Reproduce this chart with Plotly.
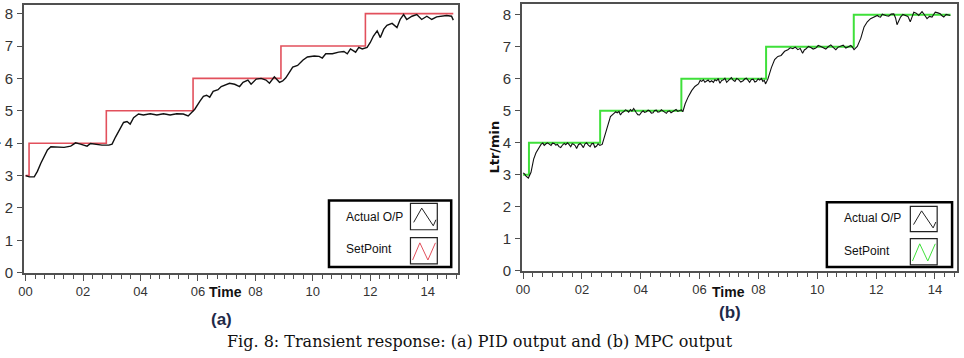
import plotly.graph_objects as go

W, H = 964, 358

# ---------------- data ----------------
x_tick_vals = [0, 2, 4, 6, 8, 10, 12, 14]
x_tick_labels = ["00", "02", "04", "06", "08", "10", "12", "14"]
y_tick_vals = [0, 1, 2, 3, 4, 5, 6, 7, 8]

# (a) PID
pid_sp_time = [0, 0.12, 2.81, 5.83, 8.89, 11.83, 14.89]
pid_sp_value = [3, 4, 5, 6, 7, 8, 8]

pid_time = [0.0, 0.13, 0.30, 0.41, 0.53, 0.64, 0.76, 0.88, 1.10, 1.34, 1.57, 1.74, 1.91,
            2.14, 2.26, 2.43, 2.66, 2.90, 3.01, 3.13, 3.30, 3.41, 3.53, 3.64, 3.76, 3.93,
            4.10, 4.34, 4.57, 4.80, 5.03, 5.26, 5.49, 5.66, 5.78, 5.89, 6.07, 6.19, 6.30,
            6.41, 6.53, 6.70, 6.81, 6.93, 7.10, 7.28, 7.45, 7.57, 7.74, 7.85, 8.03, 8.20,
            8.37, 8.49, 8.66, 8.84, 8.95, 9.06, 9.18, 9.30, 9.47, 9.65, 9.81, 10.05, 10.22,
            10.33, 10.45, 10.68, 10.90, 11.08, 11.20, 11.31, 11.49, 11.60, 11.72, 11.89,
            12.00, 12.11, 12.24, 12.35, 12.47, 12.58, 12.76, 12.93, 13.04, 13.16, 13.27,
            13.45, 13.62, 13.79, 13.97, 14.14, 14.31, 14.49, 14.66, 14.83, 14.89]
pid_actual = [3.00, 2.96, 2.96, 3.13, 3.38, 3.56, 3.79, 3.89, 3.87, 3.87, 3.91, 4.01, 3.97,
              3.91, 3.99, 3.97, 3.94, 3.94, 3.97, 4.19, 4.49, 4.64, 4.67, 4.59, 4.79, 4.90,
              4.87, 4.91, 4.87, 4.91, 4.87, 4.91, 4.90, 4.84, 4.95, 5.05, 5.30, 5.45, 5.48,
              5.42, 5.60, 5.65, 5.75, 5.80, 5.85, 5.82, 5.75, 5.88, 5.95, 5.82, 5.98, 6.00,
              5.95, 5.85, 6.05, 5.88, 5.92, 6.02, 6.20, 6.35, 6.40, 6.56, 6.66, 6.69, 6.68,
              6.63, 6.76, 6.76, 6.81, 6.83, 6.76, 6.91, 6.81, 6.96, 6.91, 6.96,
              7.11, 7.31, 7.47, 7.26, 7.52, 7.64, 7.70, 7.57, 7.82, 7.97, 7.82,
              7.92, 7.97, 7.82, 7.92, 7.82, 7.90, 7.92, 7.94, 7.92, 7.80]

# (b) MPC
mpc_sp_time = [0, 0.20, 2.62, 5.38, 8.26, 11.24, 14.53]
mpc_sp_value = [3, 4, 5, 6, 7, 8, 8]

mpc_time = [0.0, 0.05, 0.10, 0.18, 0.27, 0.36, 0.44, 0.52,
            0.61, 0.67, 0.72, 0.78, 0.83, 0.89, 0.95, 1.00, 1.06, 1.11, 1.17, 1.22, 1.28,
            1.34, 1.40, 1.45, 1.51, 1.56, 1.62, 1.67, 1.73, 1.78, 1.82, 1.88, 1.94, 2.00,
            2.05, 2.10, 2.16, 2.22, 2.28, 2.33, 2.39, 2.44, 2.50, 2.55, 2.61,
            2.69, 2.77, 2.86, 2.97,
            3.09, 3.15, 3.20, 3.26, 3.31, 3.37, 3.42, 3.48, 3.54, 3.59, 3.65, 3.70, 3.76,
            3.80, 3.85, 3.90, 3.96, 4.02, 4.08, 4.13, 4.19, 4.25, 4.30, 4.36, 4.42, 4.47,
            4.53, 4.58, 4.64, 4.70, 4.75, 4.81, 4.87, 4.92, 4.98, 5.03, 5.09, 5.15, 5.20,
            5.26, 5.32, 5.38, 5.43,
            5.51, 5.62, 5.73, 5.84,
            5.96, 6.02, 6.07, 6.13, 6.18, 6.24, 6.29, 6.35, 6.41, 6.47, 6.52, 6.58, 6.63,
            6.69, 6.75, 6.80, 6.86, 6.92, 7.00, 7.08, 7.14, 7.20, 7.26, 7.31, 7.40, 7.48,
            7.54, 7.59, 7.65, 7.70, 7.76, 7.82, 7.88, 7.93, 7.99, 8.04, 8.10, 8.15, 8.20, 8.24,
            8.32, 8.44, 8.55, 8.66, 8.77, 8.89,
            9.00, 9.08, 9.17, 9.25, 9.34, 9.42, 9.50, 9.56, 9.62, 9.70, 9.78, 9.86, 9.95,
            10.03, 10.12, 10.20, 10.29, 10.37, 10.46, 10.54, 10.63, 10.71, 10.80, 10.88,
            10.97, 11.05, 11.14, 11.20, 11.25,
            11.36, 11.48, 11.59, 11.70, 11.81, 11.93,
            12.04, 12.10, 12.15, 12.21, 12.26, 12.35, 12.43, 12.51, 12.60, 12.66, 12.71,
            12.77, 12.83, 12.91, 13.00, 13.08, 13.16, 13.22, 13.28, 13.36, 13.45, 13.50,
            13.56, 13.64, 13.73, 13.81, 13.90, 13.95, 14.01, 14.10, 14.18, 14.24, 14.30,
            14.38, 14.47, 14.52]
mpc_actual = [3.06, 3.03, 2.96, 2.90, 3.08, 3.49, 3.69, 3.82,
              3.95, 3.99, 3.92, 3.97, 4.00, 3.96, 3.92, 3.99, 3.98, 3.93, 3.95, 3.88, 3.85,
              3.93, 3.98, 3.94, 4.00, 3.95, 3.88, 3.97, 3.95, 3.90, 3.82, 3.94, 3.98, 3.92,
              3.85, 3.96, 4.00, 3.93, 3.88, 3.97, 3.98, 3.86, 3.90, 3.97, 3.92,
              3.95, 4.20, 4.51, 4.82,
              4.92, 4.97, 4.94, 4.98, 4.87, 4.95, 4.97, 5.03, 5.00, 4.96, 5.04, 4.99, 5.07,
              4.99, 4.94, 4.88, 4.87, 4.95, 5.00, 4.95, 4.97, 5.02, 5.00, 4.93, 4.94, 5.01,
              5.02, 4.96, 4.97, 5.03, 5.00, 4.95, 4.92, 4.98, 5.00, 4.94, 4.97, 5.02, 5.04,
              4.98, 5.00, 5.03, 4.97,
              5.22, 5.45, 5.63, 5.76,
              5.84, 5.95, 5.92, 5.97, 5.89, 5.93, 5.96, 5.90, 5.94, 5.89, 5.97, 5.94, 6.01,
              5.86, 5.95, 5.96, 6.02, 5.89, 5.97, 6.04, 5.96, 5.92, 6.01, 5.99, 5.90, 5.94,
              6.00, 6.02, 5.95, 5.89, 5.98, 5.99, 5.90, 5.92, 6.00, 5.96, 6.01, 5.92, 5.95, 5.84,
              5.99, 6.35, 6.60, 6.70, 6.73, 6.86,
              6.91, 6.97, 6.94, 6.99, 6.91, 6.95, 6.80, 6.90, 6.94, 7.01, 6.98, 6.93, 6.96,
              7.04, 7.01, 6.97, 6.93, 7.00, 7.06, 6.98, 6.91, 6.99, 7.01, 7.05,
              6.96, 6.99, 7.04, 6.98, 6.91,
              7.01, 7.27, 7.62, 7.78, 7.88, 7.93,
              7.98, 7.94, 7.93, 8.02, 8.00, 7.97, 7.96, 8.02, 8.03, 7.90, 7.69,
              7.80, 7.93, 8.01, 7.98, 7.95, 7.78, 7.95, 8.08, 8.05, 7.98, 8.04,
              8.10, 8.00, 7.88, 7.95, 7.93, 8.00, 8.08, 8.06, 8.03, 7.97, 7.93,
              8.01, 8.00, 7.98]

labels = ["Actual O/P", "SetPoint"]

# ---------------- helpers (pixel -> paper) ----------------
def px(x):
    return x / W

def py(y):
    return 1 - y / H

SANS = "Liberation Sans, Arial, sans-serif"
RED = "#e2505c"
GREEN = "#3fe03a"
FRAME = "#505050"

fig = go.Figure()

fig.add_trace(go.Scatter(x=pid_sp_time, y=pid_sp_value, mode="lines", line_shape="hv",
                         line=dict(color=RED, width=1.6), xaxis="x", yaxis="y", showlegend=False))
fig.add_trace(go.Scatter(x=pid_time, y=pid_actual, mode="lines",
                         line=dict(color="#111111", width=1.4), xaxis="x", yaxis="y", showlegend=False))
fig.add_trace(go.Scatter(x=mpc_sp_time, y=mpc_sp_value, mode="lines", line_shape="hv",
                         line=dict(color=GREEN, width=2), xaxis="x2", yaxis="y2", showlegend=False))
fig.add_trace(go.Scatter(x=mpc_time, y=mpc_actual, mode="lines",
                         line=dict(color="#111111", width=1.1), xaxis="x2", yaxis="y2", showlegend=False))

def xaxis(domain, rng, anchor):
    return dict(domain=domain, range=rng, anchor=anchor, showline=True, mirror=True,
                linecolor=FRAME, linewidth=1.5, showgrid=False, zeroline=False,
                tickmode="array", tickvals=x_tick_vals, ticktext=x_tick_labels,
                ticks="outside", ticklen=6, tickwidth=1, tickcolor=FRAME,
                tickfont=dict(family=SANS, size=13, color="#333333"),
                minor=dict(dtick=1/3, tick0=0, ticks="outside", ticklen=4, tickwidth=1, tickcolor=FRAME))

def yaxis(domain, rng, anchor):
    return dict(domain=domain, range=rng, anchor=anchor, showline=True, mirror=True,
                linecolor=FRAME, linewidth=1.5, showgrid=False, zeroline=False,
                tickmode="array", tickvals=y_tick_vals,
                ticks="outside", ticklen=5, tickwidth=1, tickcolor=FRAME, ticklabelstandoff=1,
                tickfont=dict(family=SANS, size=15, color="#333333"))

fig.update_layout(
    width=W, height=H, margin=dict(l=0, r=0, t=0, b=0),
    paper_bgcolor="white", plot_bgcolor="white", showlegend=False,
    xaxis=xaxis([px(18), px(455)], [-0.06, 15.06], "y"),
    yaxis=yaxis([py(279), py(5)], [0, 8.27], "x"),
    xaxis2=xaxis([px(519), px(957)], [-0.044, 14.75], "y2"),
    yaxis2=yaxis([py(277), py(4)], [0, 8.34], "x2"),
)

shapes = []
anns = []

def legend(box, icon_x, icon1_y, icon2_y, text_x, t1_y, t2_y, sp_color):
    x0, y0, x1, y1 = box
    shapes.append(dict(type="rect", xref="paper", yref="paper", x0=px(x0), x1=px(x1),
                       y0=py(y1), y1=py(y0), line=dict(color="black", width=2.5),
                       fillcolor="white", layer="above"))
    for (iy0, iy1), col, pts in [
        (icon1_y, "#222222", [(0.12, 0.72), (0.42, 0.18), (0.85, 0.85), (0.95, 0.62)]),
        (icon2_y, sp_color, [(0.08, 0.85), (0.35, 0.2), (0.65, 0.85), (0.93, 0.2)]),
    ]:
        ix0, ix1 = icon_x
        shapes.append(dict(type="rect", xref="paper", yref="paper", x0=px(ix0), x1=px(ix1),
                           y0=py(iy1), y1=py(iy0), line=dict(color="#222222", width=1.2),
                           layer="above"))
        path = ""
        for i, (fx, fy) in enumerate(pts):
            X = px(ix0 + fx * (ix1 - ix0))
            Y = py(iy0 + fy * (iy1 - iy0))
            path += ("M" if i == 0 else " L") + f"{X:.5f},{Y:.5f}"
        shapes.append(dict(type="path", xref="paper", yref="paper", path=path,
                           line=dict(color=col, width=1), layer="above"))
    for lab, ty in zip(labels, (t1_y, t2_y)):
        anns.append(dict(text=lab, x=px(text_x), y=py(ty), xref="paper", yref="paper",
                         xanchor="left", yanchor="middle", showarrow=False,
                         font=dict(family=SANS, size=12, color="#111111")))

legend((325, 205, 448, 273), (407, 434), (208, 235), (243, 270), 340, 222, 255, RED)
legend((826, 207, 952, 273), (910, 937), (211, 237), (244, 271), 841, 223, 256.5, GREEN)

def ann(text, x, y, size, family, color="#111111", angle=0, bold=False):
    anns.append(dict(text=f"<b>{text}</b>" if bold else text, x=px(x), y=py(y),
                     xref="paper", yref="paper", xanchor="center", yanchor="middle",
                     showarrow=False, textangle=angle,
                     font=dict(family=family, size=size, color=color)))

ann("Time", 221, 299, 14, SANS, bold=True)
ann("Time", 727, 299, 14, SANS, bold=True)
ann("(a)", 217, 327, 17, SANS, color="#1f2a48", bold=True)
ann("(b)", 729, 320, 17, SANS, color="#1f2a48", bold=True)
ann("Ltr/min", 492, 150, 13, "DejaVu Sans", angle=-90, bold=True)
ann("Ltr/min", -11, 142, 13, "DejaVu Sans", angle=-90, bold=True)
ann("Fig. 8: Transient response: (a) PID output and (b) MPC output", 477, 349, 16,
    "DejaVu Serif, serif")

fig.update_layout(shapes=shapes, annotations=anns)
fig.write_html("out.html")
